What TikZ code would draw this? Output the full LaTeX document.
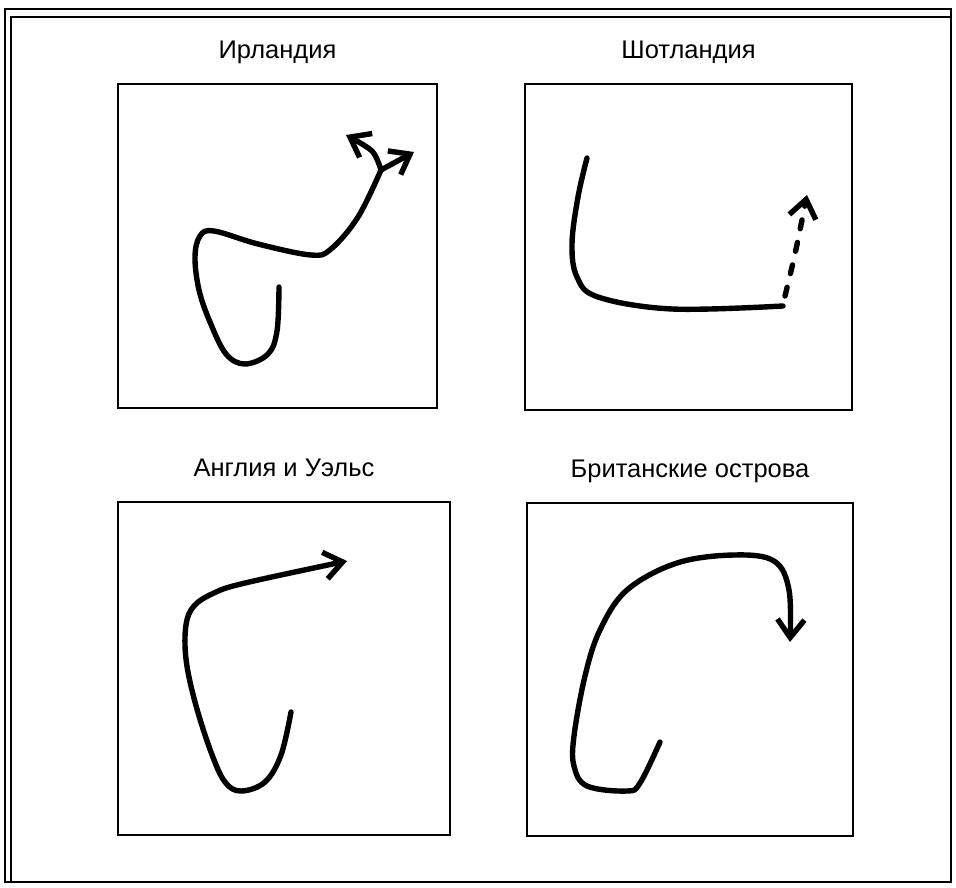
\documentclass[tikz,border=0pt]{standalone}
\usepackage{fontspec}
\setmainfont{Liberation Sans}
\usetikzlibrary{arrows.meta,positioning}

\begin{document}
\begin{tikzpicture}[x=1pt,y=-1pt,
  panel/.style={rectangle,draw,line width=2.6pt,inner sep=0pt},
  ttl/.style={font=\fontsize{25.5}{30}\selectfont,inner sep=0pt},
  track/.style={line width=5.4pt,line cap=round,line join=round},
  arr/.style={track,-{Straight Barb[length=18pt,width=27pt]}}]
\useasboundingbox (0,0) rectangle (956,888);
% outer frame
\draw[line width=1.4pt] (5,9) rectangle (951,882);
\draw[line width=1.1pt] (11,882) -- (11,17) -- (951,17);
% panels
\node[panel,minimum width=319pt,minimum height=324pt] (irl) at (277.5,246) {};
\node[panel,minimum width=327pt,minimum height=326pt] (sco) at (688.5,247) {};
\node[panel,minimum width=332pt,minimum height=333pt] (eng) at (284,668.5) {};
\node[panel,minimum width=326pt,minimum height=333pt] (bri) at (690,669.5) {};
% titles
\node[ttl,above=24pt of irl.north,anchor=base] (irlT) {Ирландия};
\node[ttl,above=24pt of sco.north,anchor=base] (scoT) {Шотландия};
\node[ttl,above=24pt of eng.north,anchor=base] (engT) {Англия и Уэльс};
\node[ttl,above=24pt of bri.north,anchor=base] (briT) {Британские острова};
% Ireland
\coordinate (fork) at (381,170);
\draw[track] plot[smooth,tension=0.6] coordinates {(279,287) (277,331) (268,354) (245,364) (226,354) (210,322) (199,290) (195,257) (200,236) (214,231) (258,244) (311,255) (331,249) (358,217) (fork)};
\draw[arr] plot[smooth] coordinates {(fork) (372,151) (346,135)};
\draw[arr] (fork) -- (414,152);
% Scotland
\coordinate (scoEnd) at (783,306);
\draw[track] plot[smooth,tension=0.6] coordinates {(587,158) (578,197) (572,244) (577,277) (598,297) (672,309) (scoEnd)};
\draw[arr,dash pattern=on 9pt off 14pt] ([shift={(2,-10)}]scoEnd) .. controls (795,255) .. (807,195);
% England and Wales
\draw[arr] plot[smooth,tension=0.6] coordinates {(291,712) (281,755) (265,782) (241,791) (225,782) (211,752) (195,702) (186,659) (186,625) (194,606) (214,593) (245,583) (347,561)};
% British Isles
\draw[arr] plot[smooth,tension=0.6] coordinates {(660,742) (640,783) (627,791) (587,786) (574,766) (574,736) (585,676) (600,630) (627,590) (677,563) (734,555) (774,561) (789,590) (790,642)};
\end{tikzpicture}
\end{document}
